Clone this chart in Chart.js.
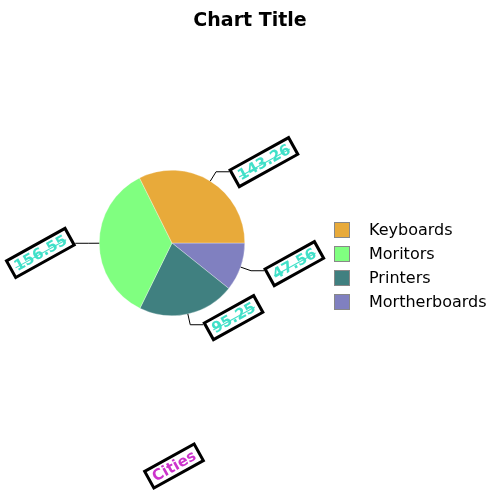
<!DOCTYPE html>
<html>
<head>
<meta charset="utf-8">
<script src="https://cdn.jsdelivr.net/npm/chart.js@4/dist/chart.umd.min.js"></script>
<style>
  html, body { margin: 0; padding: 0; background: #ffffff; }
  #c { display: block; }
</style>
</head>
<body>
<canvas id="c" width="500" height="500"></canvas>
<script>
// ---- data ----
const categories = ['Keyboards', 'Moritors', 'Printers', 'Mortherboards'];
const values = [143.26, 156.55, 95.25, 47.56];
const sliceColors = ['#E8AA3A', '#80FF80', '#408080', '#8080C0'];
const chartTitle = 'Chart Title';
const axisTitle = 'Cities';

// The reference runs counter-clockwise from 3 o'clock; Chart.js runs clockwise,
// so feed the slices in reverse order starting at 3 o'clock.
const revLabels = categories.slice().reverse();
const revValues = values.slice().reverse();
const revColors = sliceColors.slice().reverse();

const LABEL_FONT = 'bold 15px "DejaVu Sans", sans-serif';
const LABEL_ANGLE = -29 * Math.PI / 180;

function drawBoxLabel(ctx, ax, ay, text, color, anchorRight, strike, center) {
  ctx.save();
  ctx.font = LABEL_FONT;
  const tw = ctx.measureText(text).width;
  const w = tw + 9, h = 19;
  ctx.translate(ax, ay);
  ctx.rotate(LABEL_ANGLE);
  let x0, y0;
  if (center) { x0 = -w / 2; y0 = -h / 2; }
  else if (anchorRight) { x0 = 0; y0 = -2; }
  else { x0 = -w; y0 = -h + 2; }
  ctx.fillStyle = '#ffffff';
  ctx.fillRect(x0, y0, w, h);
  ctx.lineWidth = 3;
  ctx.strokeStyle = '#000000';
  ctx.strokeRect(x0, y0, w, h);
  ctx.fillStyle = color;
  ctx.textAlign = 'center';
  ctx.textBaseline = 'middle';
  ctx.fillText(text, x0 + w / 2, y0 + h / 2 + 1);
  if (strike) {
    ctx.strokeStyle = color;
    ctx.lineWidth = 1;
    ctx.beginPath();
    ctx.moveTo(x0 + w / 2 - tw / 2, y0 + h / 2 + 1);
    ctx.lineTo(x0 + w / 2 + tw / 2, y0 + h / 2 + 1);
    ctx.stroke();
  }
  ctx.restore();
}

const decorPlugin = {
  id: 'decor',
  afterDatasetsDraw(chart) {
    const ctx = chart.ctx;
    const meta = chart.getDatasetMeta(0);
    // leader lines + value labels
    meta.data.forEach((arc, i) => {
      const p = arc.getProps(['x', 'y', 'startAngle', 'endAngle', 'outerRadius'], true);
      const mid = (p.startAngle + p.endAngle) / 2;
      const c = Math.cos(mid), s = Math.sin(mid);
      const x1 = p.x + c * p.outerRadius, y1 = p.y + s * p.outerRadius;
      const x2 = p.x + c * (p.outerRadius + 11), y2 = p.y + s * (p.outerRadius + 11);
      const dir = c >= 0 ? 1 : -1;
      const x3 = x2 + dir * 13, y3 = y2;
      ctx.save();
      ctx.strokeStyle = '#000000';
      ctx.lineWidth = 1;
      ctx.beginPath();
      ctx.moveTo(x1, y1);
      ctx.lineTo(x2, y2);
      ctx.lineTo(x3, y3);
      ctx.stroke();
      ctx.restore();
      const v = chart.data.datasets[0].data[i];
      drawBoxLabel(ctx, x3 + dir * 2, y3, v.toFixed(2), '#40E0C8', dir > 0, true, false);
    });

    // title
    ctx.save();
    ctx.font = 'bold 19px "DejaVu Sans", sans-serif';
    ctx.fillStyle = '#000000';
    ctx.textAlign = 'center';
    ctx.textBaseline = 'middle';
    ctx.fillText(chartTitle, 250, 21);
    ctx.restore();

    // legend (original order)
    ctx.save();
    ctx.font = '16px "DejaVu Sans", sans-serif';
    ctx.textBaseline = 'middle';
    ctx.textAlign = 'left';
    categories.forEach((name, i) => {
      const cy = 230 + i * 24;
      ctx.fillStyle = sliceColors[i];
      ctx.fillRect(334, cy - 8, 16, 16);
      ctx.strokeStyle = '#888888';
      ctx.lineWidth = 1;
      ctx.strokeRect(334.5, cy - 7.5, 15, 15);
      ctx.fillStyle = '#000000';
      ctx.fillText(name, 369, cy + 1);
    });
    ctx.restore();

    // axis-like caption
    drawBoxLabel(ctx, 174, 466, axisTitle, '#CC33CC', true, false, true);
  }
};

new Chart(document.getElementById('c'), {
  type: 'pie',
  data: {
    labels: revLabels,
    datasets: [{
      data: revValues,
      backgroundColor: revColors,
      borderColor: 'rgba(255,255,255,0.6)',
      borderWidth: 0.5
    }]
  },
  options: {
    responsive: false,
    animation: false,
    rotation: 90,
    layout: { padding: { left: 99, top: 170, right: 255, bottom: 184 } },
    plugins: {
      legend: { display: false },
      title: { display: false },
      tooltip: { enabled: false }
    }
  },
  plugins: [decorPlugin]
});
</script>
</body>
</html>
